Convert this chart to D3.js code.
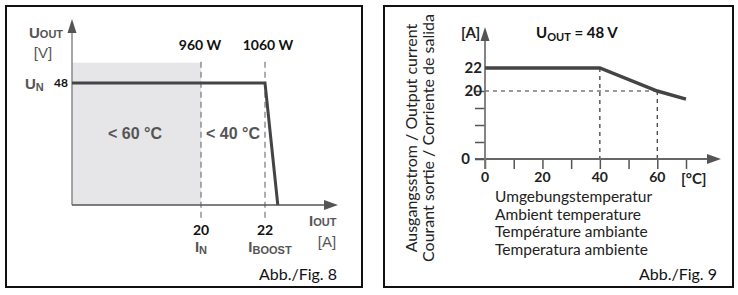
<!DOCTYPE html>
<html>
<head>
<meta charset="utf-8">
<script src="https://cdn.jsdelivr.net/npm/d3@7"></script>
<style>
  body { margin: 0; background: #fff; }
  text { font-family: Lato, "Liberation Sans", sans-serif; }
  .sym { font-family: "Liberation Sans", Arial, sans-serif; font-weight: bold; fill: #555; }
  .sym.plain { font-weight: normal; }
</style>
</head>
<body>
<svg width="738" height="295"></svg>
<script>
// ---- Fig. 8 : output voltage vs output current ----
var curveI = [0, 22, 22.4];          // A
var curveU = [48, 48, 0];            // V
var markI = [20, 22];                // dashed markers
var markPower = ["960 W", "1060 W"];
var markName = [["I", "N"], ["I", "BOOST"]];
var zoneTemp = ["< 60 °C", "< 40 °C"];
var shadeTop = 56;

// ---- Fig. 9 : output current vs ambient temperature ----
var temps = [0, 40, 60, 70];         // °C
var amps = [22, 22, 20, 17.6];       // A
var tempTicks = [0, 10, 20, 30, 40, 50, 60, 70];
var tempLabels = [0, 20, 40, 60];
var ampTicks = [0, 5, 10, 15, 20];
var ampLabels = [0, 20, 22];
var axisText = ["Umgebungstemperatur", "Ambient temperature", "Température ambiante", "Temperatura ambiente"];
var yTitle = ["Ausgangsstrom / Output current", "Courant sortie / Corriente de salida"];

var svg = d3.select("svg");

//arrow heads drawn as little triangles
function arrow(g, x, y, dir) {
  var p = dir == "up" ? [[x, y], [x - 4.5, y + 14], [x + 4.5, y + 14]]
                      : [[x, y], [x - 14, y - 5], [x - 14, y + 5]];
  g.append("path").attr("d", "M" + p.join("L") + "Z").attr("fill", "#555");
}

// frames
svg.append("rect").attr("x", 6).attr("y", 6).attr("width", 356).attr("height", 281)
  .attr("fill", "none").attr("stroke", "#111").attr("stroke-width", 2);
svg.append("rect").attr("x", 384).attr("y", 6).attr("width", 349).attr("height", 281)
  .attr("fill", "none").attr("stroke", "#111").attr("stroke-width", 2);

// ================= left chart =================
var L = svg.append("g");
// schematic axis: not to scale between the marks
var xI = d3.scaleLinear().domain([0, 20, 22]).range([72, 201, 265]);
var yU = d3.scaleLinear().domain([0, 48]).range([205, 83]);

L.append("rect").attr("x", xI(0)).attr("y", yU(shadeTop))
  .attr("width", xI(markI[0]) - xI(0)).attr("height", yU(0) - yU(shadeTop))
  .attr("fill", "#e6e6e8");

markI.forEach(function(v, i) {
  L.append("line").attr("x1", xI(v)).attr("x2", xI(v))
    .attr("y1", yU(shadeTop) - 1).attr("y2", yU(0) + 14)
    .attr("stroke", "#777").attr("stroke-width", 1.2).attr("stroke-dasharray", "6,4");
  L.append("text").attr("x", xI(v) + (i ? 3 : -1)).attr("y", 50).attr("text-anchor", "middle")
    .attr("font-weight", "bold").attr("font-size", 14).attr("fill", "#111").text(markPower[i]);
  L.append("text").attr("x", xI(v)).attr("y", 235).attr("text-anchor", "middle")
    .attr("font-weight", "bold").attr("font-size", 14).attr("fill", "#111").text(v);
  var t = L.append("text").attr("class", "sym").attr("x", xI(v) + (i ? 5 : 0)).attr("y", 252)
    .attr("text-anchor", "middle");
  t.append("tspan").attr("font-size", 15).text(markName[i][0]);
  t.append("tspan").attr("font-size", 11).attr("dy", 2).text(markName[i][1]);
});

// zone labels
L.append("text").attr("class", "sym").attr("x", 135).attr("y", 139).attr("text-anchor", "middle")
  .attr("font-size", 16).text(zoneTemp[0]);
L.append("text").attr("class", "sym").attr("x", 233).attr("y", 139).attr("text-anchor", "middle")
  .attr("font-size", 16).text(zoneTemp[1]);

// axes
L.append("line").attr("x1", 72).attr("x2", 72).attr("y1", 205).attr("y2", 30)
  .attr("stroke", "#888").attr("stroke-width", 1.5);
arrow(L, 72, 19, "up");
L.append("line").attr("x1", 72).attr("x2", 326).attr("y1", 205).attr("y2", 205)
  .attr("stroke", "#555").attr("stroke-width", 1.5);
arrow(L, 338, 205, "right");

// curve
var lineL = d3.line().x(function(d) { return xI(d[0]); }).y(function(d) { return yU(d[1]); });
L.append("path").datum(d3.zip(curveI, curveU)).attr("d", lineL)
  .attr("fill", "none").attr("stroke", "#444").attr("stroke-width", 3);

// axis labels
var u = L.append("text").attr("class", "sym").attr("x", 29).attr("y", 38);
u.append("tspan").attr("font-size", 15).text("U");
u.append("tspan").attr("font-size", 11).text("OUT");
L.append("text").attr("class", "sym plain").attr("x", 43).attr("y", 58).attr("text-anchor", "middle")
  .attr("font-size", 15).text("[V]");
var un = L.append("text").attr("class", "sym").attr("x", 25).attr("y", 89);
un.append("tspan").attr("font-size", 15).text("U");
un.append("tspan").attr("font-size", 11).attr("dy", 2).text("N");
L.append("text").attr("x", 68).attr("y", 87).attr("text-anchor", "end")
  .attr("font-family", "Liberation Sans").attr("font-weight", "bold").attr("font-size", 12)
  .attr("fill", "#111").text("48");
var io = L.append("text").attr("class", "sym").attr("x", 309).attr("y", 226);
io.append("tspan").attr("font-size", 15).text("I");
io.append("tspan").attr("font-size", 11).text("OUT");
L.append("text").attr("class", "sym plain").attr("x", 327).attr("y", 247).attr("text-anchor", "middle")
  .attr("font-size", 15).text("[A]");
L.append("text").attr("x", 337).attr("y", 280).attr("text-anchor", "end")
  .attr("font-size", 16).attr("fill", "#111").text("Abb./Fig. 8");

// ================= right chart =================
var R = svg.append("g");
var xT = d3.scaleLinear().domain([0, 70]).range([485, 686]);
// current axis is schematic: the 20..22 step is stretched
var yA = d3.scaleLinear().domain([0, 20, 22]).range([159, 91, 68]);

// dashed guides
R.append("line").attr("x1", xT(40)).attr("x2", xT(40)).attr("y1", yA(22)).attr("y2", yA(0))
  .attr("stroke", "#333").attr("stroke-width", 1.2).attr("stroke-dasharray", "4,4");
R.append("line").attr("x1", xT(60)).attr("x2", xT(60)).attr("y1", yA(20)).attr("y2", yA(0))
  .attr("stroke", "#333").attr("stroke-width", 1.2).attr("stroke-dasharray", "4,4");
R.append("line").attr("x1", xT(0)).attr("x2", xT(60)).attr("y1", yA(20)).attr("y2", yA(20))
  .attr("stroke", "#333").attr("stroke-width", 1.2).attr("stroke-dasharray", "4,4");

// x axis with ticks
var gx = R.append("g").attr("transform", "translate(0," + yA(0) + ")")
  .call(d3.axisBottom(xT).tickValues(tempTicks).tickSize(10).tickSizeOuter(0).tickFormat(""));
gx.select(".domain").remove();
gx.selectAll("line").attr("stroke", "#555").attr("stroke-width", 1.5);
R.append("line").attr("x1", 475).attr("x2", 707).attr("y1", yA(0)).attr("y2", yA(0))
  .attr("stroke", "#666").attr("stroke-width", 1.8);
arrow(R, 721, yA(0), "right");
tempLabels.forEach(function(v) {
  R.append("text").attr("x", xT(v)).attr("y", 182).attr("text-anchor", "middle")
    .attr("font-weight", "bold").attr("font-size", 14).attr("fill", "#222").text(v);
});
R.append("text").attr("x", 681).attr("y", 184).attr("font-weight", "bold")
  .attr("font-size", 15).attr("fill", "#222").text("[°C]");

// y axis with ticks
var gy = R.append("g").attr("transform", "translate(" + xT(0) + ",0)")
  .call(d3.axisLeft(yA).tickValues(ampTicks).tickSize(10).tickSizeOuter(0).tickFormat(""));
gy.select(".domain").remove();
gy.selectAll("line").attr("stroke", "#555").attr("stroke-width", 1.5);
R.append("line").attr("x1", xT(0)).attr("x2", xT(0)).attr("y1", 169).attr("y2", 40)
  .attr("stroke", "#777").attr("stroke-width", 1.8);
arrow(R, xT(0), 27, "up");
ampLabels.forEach(function(v) {
  R.append("text").attr("x", v ? 482 : 470).attr("y", yA(v) + 5).attr("text-anchor", "end")
    .attr("font-weight", "bold").attr("font-size", 15).attr("fill", "#222").text(v);
});
R.append("text").attr("x", 461).attr("y", 38).attr("font-weight", "bold")
  .attr("font-size", 15).attr("fill", "#222").text("[A]");
var uo = R.append("text").attr("x", 536).attr("y", 38).attr("font-weight", "bold")
  .attr("font-size", 15).attr("fill", "#111");
uo.append("tspan").text("U");
uo.append("tspan").attr("font-size", 11).attr("dy", 3).text("OUT");
uo.append("tspan").attr("dy", -3).text(" = 48 V");

// curve
var lineR = d3.line().x(function(d) { return xT(d[0]); }).y(function(d) { return yA(d[1]); });
R.append("path").datum(d3.zip(temps, amps)).attr("d", lineR)
  .attr("fill", "none").attr("stroke", "#444").attr("stroke-width", 3.5);

// axis titles
axisText.forEach(function(s, i) {
  R.append("text").attr("x", 495).attr("y", 202 + i * 17.5)
    .attr("font-size", 15.5).attr("fill", "#222").text(s);
});
yTitle.forEach(function(s, i) {
  R.append("text").attr("transform", "translate(" + (417 + i * 17) + ",138) rotate(-90)")
    .attr("text-anchor", "middle").attr("font-size", 16).attr("fill", "#222").text(s);
});
R.append("text").attr("x", 717).attr("y", 280).attr("text-anchor", "end")
  .attr("font-size", 16).attr("fill", "#111").text("Abb./Fig. 9");
</script>
</body>
</html>
